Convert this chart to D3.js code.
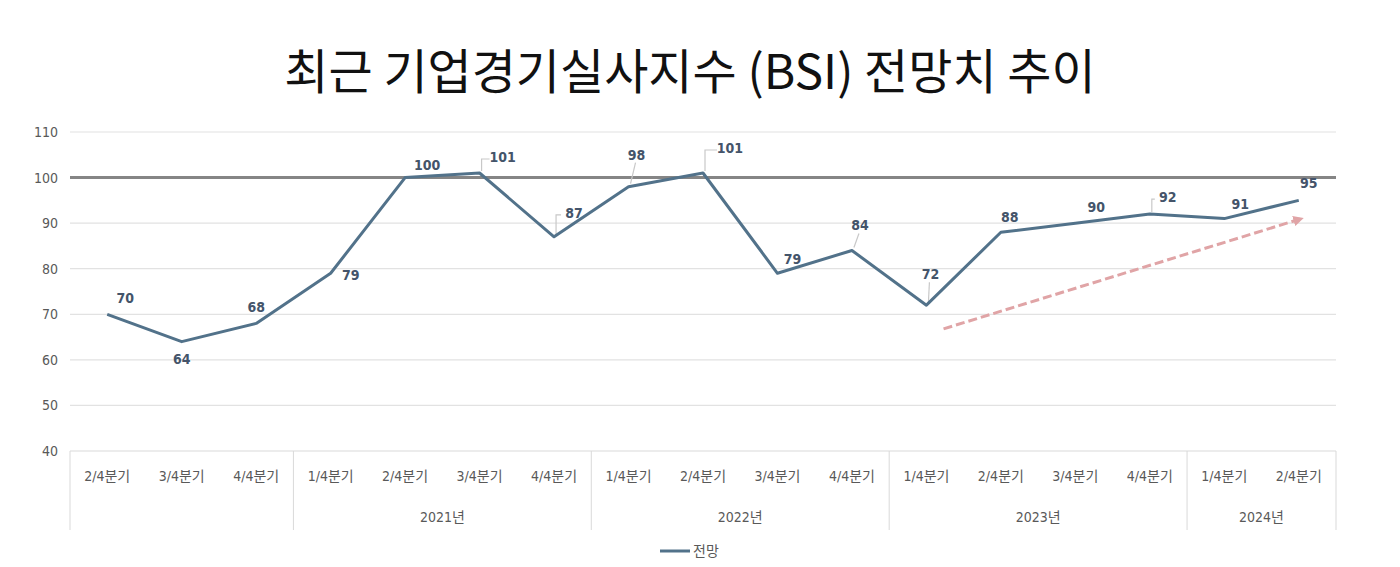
<!DOCTYPE html>
<html>
<head>
<meta charset="utf-8">
<script src="https://cdn.jsdelivr.net/npm/d3@7"></script>
<style>
  body { margin: 0; background: #fff; }
  svg text { font-family: "Liberation Sans Narrow", "DejaVu Sans Condensed", "Noto Sans CJK KR", sans-serif; }
</style>
</head>
<body>
<div id="vis"></div>
<script>
// data
var quarters = ['2/4분기', '3/4분기', '4/4분기',
  '1/4분기', '2/4분기', '3/4분기', '4/4분기',
  '1/4분기', '2/4분기', '3/4분기', '4/4분기',
  '1/4분기', '2/4분기', '3/4분기', '4/4분기',
  '1/4분기', '2/4분기'];
var yearLabels = ['', '2021년', '2022년', '2023년', '2024년'];
var yearCounts = [3, 4, 4, 4, 2];
var bsi = [70, 64, 68, 79, 100, 101, 87, 98, 101, 79, 84, 72, 88, 90, 92, 91, 95];
var yTicks = [40, 50, 60, 70, 80, 90, 100, 110];
var seriesName = '전망';
var title = '최근 기업경기실사지수 (BSI) 전망치 추이';
// trend arrow in data units: [category index, value]
var trendFrom = [11.23, 66.8];
var trendTo = [16.04, 91];

// label placement (layout only): offset in px from the point, and leader type
var labelOffsets = [[18, -16], [0, 17], [0, -16], [20, 2], [22, -12], [23, -16], [20, -24],
  [8, -32], [27, -25], [15, -14], [8, -25], [4, -31], [9, -15], [21, -16], [18, -17],
  [16, -14], [10, -17]];
var leaders = [null, null, null, null, null, 'elbow', 'elbow', 'diag', 'elbow', null,
  'diag', 'diag', null, null, 'elbow', null, null];

var width = 1400;
var height = 567;
var plot = {left: 70, right: 1336, top: 132, bottom: 451};

var svg = d3.select('#vis').append('svg')
  .attr('width', width)
  .attr('height', height);

var x = d3.scaleBand()
  .domain(d3.range(bsi.length))
  .range([plot.left, plot.right]);

var xi = d3.scaleLinear()
  .domain([0, bsi.length - 1])
  .range([x(0) + x.bandwidth() / 2, x(bsi.length - 1) + x.bandwidth() / 2]);

var y = d3.scaleLinear()
  .domain([40, 110])
  .range([plot.bottom, plot.top]);

// title
svg.append('text')
  .attr('x', 690)
  .attr('y', 89)
  .attr('text-anchor', 'middle')
  .style('font-family', '"Noto Sans CJK KR", sans-serif')
  .style('font-size', '48px')
  .attr('fill', '#111')
  .text(title);

// gridlines
svg.append('g')
  .selectAll('line')
  .data(yTicks.filter(function(d) { return d !== 40 && d !== 100; }))
  .enter().append('line')
  .attr('x1', plot.left)
  .attr('x2', plot.right)
  .attr('y1', function(d) { return y(d); })
  .attr('y2', function(d) { return y(d); })
  .attr('stroke', '#e2e2e2')
  .attr('stroke-width', 1.2);

// y axis labels
var yAxis = d3.axisLeft(y).tickValues(yTicks).tickSize(0).tickPadding(12);
var yg = svg.append('g')
  .attr('transform', 'translate(' + plot.left + ',0)')
  .call(yAxis);
yg.select('.domain').remove();
yg.selectAll('text')
  .attr('fill', '#595959')
  .style('font-size', '14px');

// reference line at 100
svg.append('line')
  .attr('x1', plot.left)
  .attr('x2', plot.right)
  .attr('y1', y(100))
  .attr('y2', y(100))
  .attr('stroke', '#858585')
  .attr('stroke-width', 3);

// category axis (multi-level)
var axisG = svg.append('g');
axisG.append('line')
  .attr('x1', plot.left)
  .attr('x2', plot.right)
  .attr('y1', plot.bottom)
  .attr('y2', plot.bottom)
  .attr('stroke', '#d9d9d9');

var bounds = [0];
yearCounts.forEach(function(n, i) { bounds.push(bounds[i] + n); });

axisG.selectAll('.sep')
  .data(bounds)
  .enter().append('line')
  .attr('class', 'sep')
  .attr('x1', function(d) { return d < bsi.length ? x(d) : plot.right; })
  .attr('x2', function(d) { return d < bsi.length ? x(d) : plot.right; })
  .attr('y1', plot.bottom)
  .attr('y2', 530)
  .attr('stroke', '#d9d9d9');

axisG.selectAll('.q')
  .data(quarters)
  .enter().append('text')
  .attr('class', 'q')
  .attr('x', function(d, i) { return xi(i); })
  .attr('y', 481)
  .attr('text-anchor', 'middle')
  .attr('fill', '#595959')
  .style('font-size', '14px')
  .text(function(d) { return d; });

axisG.selectAll('.yr')
  .data(yearLabels)
  .enter().append('text')
  .attr('class', 'yr')
  .attr('x', function(d, i) { return (xi(bounds[i]) + xi(bounds[i + 1] - 1)) / 2; })
  .attr('y', 522)
  .attr('text-anchor', 'middle')
  .attr('fill', '#595959')
  .style('font-size', '14px')
  .text(function(d) { return d; });

// trend arrow
var defs = svg.append('defs');
defs.append('marker')
  .attr('id', 'arrow')
  .attr('viewBox', '0 0 10 10')
  .attr('refX', 8)
  .attr('refY', 5)
  .attr('markerWidth', 3.5)
  .attr('markerHeight', 3.5)
  .attr('orient', 'auto')
  .append('path')
  .attr('d', 'M0,0 L10,5 L0,10 z')
  .attr('fill', '#e0a4a6');

svg.append('line')
  .attr('x1', xi(trendFrom[0]))
  .attr('y1', y(trendFrom[1]))
  .attr('x2', xi(trendTo[0]))
  .attr('y2', y(trendTo[1]))
  .attr('stroke', '#e0a4a6')
  .attr('stroke-width', 3)
  .attr('stroke-dasharray', '9,4')
  .attr('marker-end', 'url(#arrow)');

// leader lines
var lg = svg.append('g');
bsi.forEach(function(v, i) {
  if (!leaders[i]) return;
  var px = xi(i), py = y(v);
  var lx = px + labelOffsets[i][0], ly = py + labelOffsets[i][1];
  var d;
  if (leaders[i] === 'elbow') {
    d = 'M' + (px + 2) + ',' + (py - 2) + 'V' + (ly + 2) + 'H' + (lx - 13);
  } else {
    d = 'M' + (px + 2) + ',' + (py - 3) + 'L' + (lx - 1) + ',' + (ly + 8);
  }
  lg.append('path')
    .attr('d', d)
    .attr('fill', 'none')
    .attr('stroke', '#c8c8c8')
    .attr('stroke-width', 1.2);
});

// series line
var line = d3.line()
  .x(function(d, i) { return xi(i); })
  .y(function(d) { return y(d); });

svg.append('path')
  .datum(bsi)
  .attr('fill', 'none')
  .attr('stroke', '#52728a')
  .attr('stroke-width', 3)
  .attr('stroke-linejoin', 'round')
  .attr('d', line);

// data labels
svg.append('g')
  .selectAll('text')
  .data(bsi)
  .enter().append('text')
  .attr('x', function(d, i) { return xi(i) + labelOffsets[i][0]; })
  .attr('y', function(d, i) { return y(d) + labelOffsets[i][1]; })
  .attr('dy', '0.35em')
  .attr('text-anchor', 'middle')
  .attr('fill', '#44546a')
  .style('font-size', '14px')
  .style('font-weight', '600')
  .text(function(d) { return d; });

// legend
var leg = svg.append('g');
leg.append('line')
  .attr('x1', 660)
  .attr('x2', 690)
  .attr('y1', 551)
  .attr('y2', 551)
  .attr('stroke', '#52728a')
  .attr('stroke-width', 3);
leg.append('text')
  .attr('x', 693)
  .attr('y', 556)
  .attr('fill', '#595959')
  .style('font-size', '14px')
  .text(seriesName);
</script>
</body>
</html>
